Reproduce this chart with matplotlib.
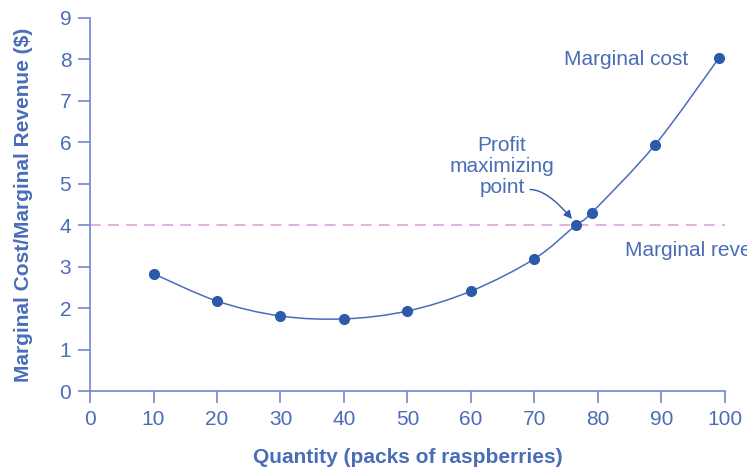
import matplotlib
matplotlib.use("Agg")
import matplotlib.pyplot as plt
from matplotlib.path import Path
from matplotlib.patches import PathPatch
import numpy as np

quantity = [10, 20, 30, 40, 50, 60, 70, 76.5, 79, 89, 99]
marginal_cost = [2.83, 2.17, 1.81, 1.74, 1.93, 2.41, 3.19, 4.0, 4.3, 5.94, 8.02]
marginal_revenue = 4.0
xticks = list(range(0, 101, 10))
yticks = list(range(0, 10))

plt.rcParams['font.family'] = ['Liberation Sans', 'DejaVu Sans']

TEXT = "#4a6db8"
AXIS = "#7388cc"
MARK = "#2d5aa8"
PINK = "#dcaadc"

fig = plt.figure(figsize=(7.47, 4.70), dpi=100)
ax = fig.add_axes([0.1205, 0.168, 0.85, 0.794])
ax.set_xlim(0, 100)
ax.set_ylim(0, 9)

# smooth curve through points (Catmull-Rom -> cubic Bezier)
pts = np.column_stack([quantity, marginal_cost])
verts = [tuple(pts[0])]
codes = [Path.MOVETO]
n = len(pts)
for i in range(n - 1):
    p0 = pts[i - 1] if i > 0 else pts[i]
    p1 = pts[i]
    p2 = pts[i + 1]
    p3 = pts[i + 2] if i + 2 < n else pts[i + 1]
    c1 = p1 + (p2 - p0) / 6.0
    c2 = p2 - (p3 - p1) / 6.0
    verts += [tuple(c1), tuple(c2), tuple(p2)]
    codes += [Path.CURVE4] * 3
ax.add_patch(PathPatch(Path(verts, codes), fill=False, edgecolor="#4a6cc0", lw=1.1, zorder=3))

ax.plot(quantity, marginal_cost, 'o', color=MARK, ms=7, zorder=4)
ax.axhline(marginal_revenue, color=PINK, lw=1.3, ls=(0, (6, 4)), zorder=2)

for s in ['top', 'right']:
    ax.spines[s].set_visible(False)
for s in ['left', 'bottom']:
    ax.spines[s].set_color(AXIS)
    ax.spines[s].set_linewidth(1.2)
ax.set_xticks(xticks)
ax.set_yticks(yticks)
ax.tick_params(colors=AXIS, labelcolor=TEXT, labelsize=15, length=8.5, width=1.2,
               direction='out', pad=5)

ax.set_xlabel("Quantity (packs of raspberries)", color=TEXT, fontsize=15, fontweight='bold')
ax.set_ylabel("Marginal Cost/Marginal Revenue ($)", color=TEXT, fontsize=15, fontweight='bold')
ax.xaxis.set_label_coords(0.5, -0.152)
ax.yaxis.set_label_coords(-0.09, 0.5)

ax.text(94.2, 8.0, "Marginal cost", color=TEXT, fontsize=15, ha='right', va='center')
ax.text(84.3, 3.4, "Marginal revenue", color=TEXT, fontsize=15, ha='left', va='center', clip_on=False)
ax.text(64.9, 5.42, "Profit\nmaximizing\npoint", color=TEXT, fontsize=15, ha='center', va='center',
        linespacing=1.15)
ax.annotate("", xy=(75.9, 4.15), xytext=(69.3, 4.86),
            arrowprops=dict(arrowstyle='-|>', color=MARK, lw=1.0, mutation_scale=12,
                            shrinkA=0, shrinkB=0,
                            connectionstyle="angle3,angleA=0,angleB=-50"))

fig.savefig("out.png", dpi=100)
